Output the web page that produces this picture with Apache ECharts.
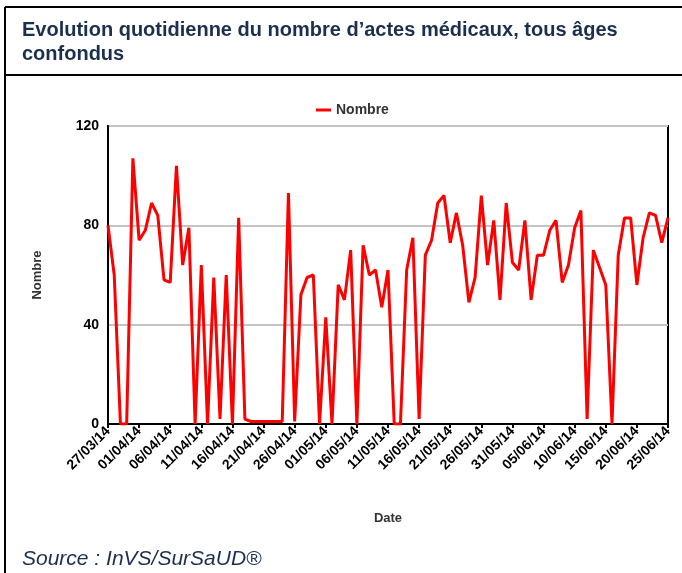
<!DOCTYPE html>
<html>
<head>
<meta charset="utf-8">
<script src="https://cdn.jsdelivr.net/npm/echarts@6/dist/echarts.min.js"></script>
<style>
html, body { margin: 0; padding: 0; background: #fff; }
#chart { width: 682px; height: 573px; }
</style>
</head>
<body>
<div id="chart"></div>
<script>
// jours du 27/03/14 au 25/06/14
var startDate = new Date(2014, 2, 27);
var dayCount = 91;
var dates = [];
for (var i = 0; i < dayCount; i++) {
    var d = new Date(startDate.getFullYear(), startDate.getMonth(), startDate.getDate() + i);
    var dd = d.getDate() < 10 ? '0' + d.getDate() : '' + d.getDate();
    var mm = d.getMonth() + 1 < 10 ? '0' + (d.getMonth() + 1) : '' + (d.getMonth() + 1);
    dates.push(dd + '/' + mm + '/14');
}

// nombre d'actes médicaux par jour
var nombre = [
    80, 60, 0, 0, 107, 74, 78, 89, 84, 58,
    57, 104, 64, 79, 0, 64, 0, 59, 2, 60,
    0, 83, 2, 1, 1, 1, 1, 1, 1, 93,
    1, 52, 59, 60, 0, 43, 0, 56, 50, 70,
    0, 72, 60, 62, 47, 62, 0, 0, 62, 75,
    2, 68, 74, 89, 92, 73, 85, 72, 49, 59,
    92, 64, 82, 50, 89, 65, 62, 82, 50, 68,
    68, 78, 82, 57, 64, 79, 86, 2, 70, 63,
    56, 0, 68, 83, 83, 56, 75, 85, 84, 73,
    83
];

var yTicks = [0, 40, 80, 120];

var chart = echarts.init(document.getElementById('chart'));
var font = 'Liberation Sans, Arial, sans-serif';

var option = {
    animation: false,
    textStyle: { fontFamily: font },
    title: {
        text: 'Evolution quotidienne du nombre d\u2019actes médicaux, tous âges\nconfondus',
        left: 17,
        top: 13,
        textStyle: {
            fontFamily: font,
            fontSize: 20,
            fontWeight: 'bold',
            color: '#1b2f4e',
            lineHeight: 24
        }
    },
    legend: {
        top: 98,
        left: 311,
        icon: 'rect',
        itemWidth: 15,
        itemHeight: 3,
        itemGap: 6,
        data: ['Nombre'],
        textStyle: { fontFamily: font, fontSize: 14, fontWeight: 'bold', color: '#333' }
    },
    grid: {
        left: 108,
        right: 14,
        top: 126,
        bottom: 149,
        show: true,
        borderColor: '#000',
        borderWidth: 2
    },
    xAxis: {
        type: 'category',
        data: dates,
        boundaryGap: false,
        name: 'Date',
        nameLocation: 'middle',
        nameGap: 88,
        nameTextStyle: { fontFamily: font, fontSize: 13, fontWeight: 'bold', color: '#333' },
        axisLine: { lineStyle: { color: '#000', width: 2 } },
        axisTick: { interval: 4, length: 4, lineStyle: { color: '#000', width: 2 } },
        axisLabel: {
            interval: 4,
            rotate: 45,
            margin: 5,
            fontFamily: font,
            fontSize: 14,
            fontWeight: 'bold',
            color: '#000'
        },
        splitLine: { show: false }
    },
    yAxis: {
        type: 'value',
        min: yTicks[0],
        max: yTicks[yTicks.length - 1],
        interval: 40,
        name: 'Nombre',
        nameLocation: 'middle',
        nameGap: 64,
        nameTextStyle: { fontFamily: font, fontSize: 13, fontWeight: 'bold', color: '#333' },
        axisLine: { show: true, lineStyle: { color: '#000', width: 2 } },
        axisTick: { show: false },
        axisLabel: { margin: 9, fontFamily: font, fontSize: 14, fontWeight: 'bold', color: '#000' },
        splitLine: { lineStyle: { color: '#c4c4c4', width: 2 } }
    },
    series: [{
        name: 'Nombre',
        type: 'line',
        data: nombre,
        showSymbol: false,
        symbol: 'none',
        color: '#ff0000',
        lineStyle: { color: '#ff0000', width: 3 }
    }],
    graphic: [
        { type: 'line', shape: { x1: 5, y1: 7, x2: 682, y2: 7 }, style: { stroke: '#000', lineWidth: 2 } },
        { type: 'line', shape: { x1: 5, y1: 7, x2: 5, y2: 573 }, style: { stroke: '#000', lineWidth: 2 } },
        { type: 'line', shape: { x1: 5, y1: 75, x2: 682, y2: 75 }, style: { stroke: '#000', lineWidth: 2 } },
        {
            type: 'text',
            left: 22,
            top: 549,
            style: {
                text: 'Source : InVS/SurSaUD\u00ae',
                fontFamily: font,
                fontSize: 21,
                fontStyle: 'italic',
                fill: '#1b2f4e'
            }
        }
    ]
};
chart.setOption(option);
</script>
</body>
</html>
